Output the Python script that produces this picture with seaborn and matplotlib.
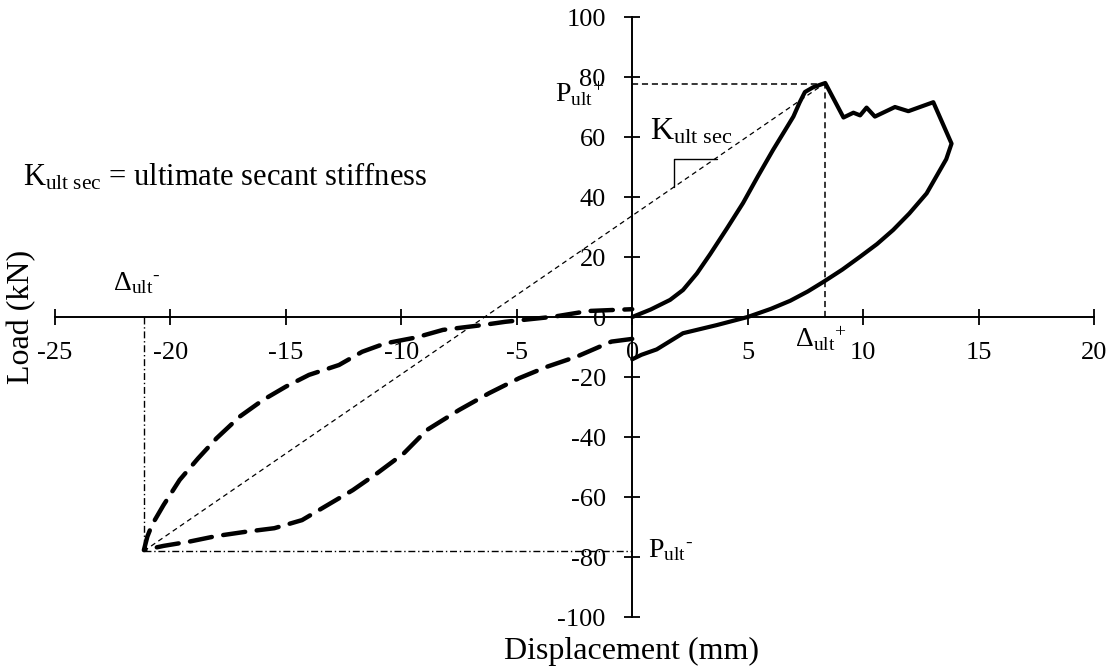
import matplotlib
matplotlib.use("Agg")
import matplotlib.pyplot as plt
import seaborn as sns

# ========== Data ==========
# positive half-cycle (solid)
pos_disp = [0, 0.8, 1.64, 2.2, 2.8, 3.38, 4.1, 4.8, 5.45, 6.1, 6.6, 6.98, 7.25, 7.48, 7.84, 8.36,
            9.15, 9.58, 9.87, 10.15, 10.51, 11.38, 11.96, 13.04, 13.83,
            13.6, 12.75, 12.0, 11.3, 10.6, 9.87, 9.1, 8.3, 7.6, 6.84, 6.0, 5.0, 3.66, 2.2, 1.06, 0.4, 0.0]
pos_load = [0, 2.5, 5.7, 9, 14.5, 21, 29.5, 38, 47, 55.7, 62, 66.8, 71.5, 75, 76.6, 78,
            66.5, 68.1, 67.2, 69.8, 66.8, 70.0, 68.6, 71.6, 57.8,
            52.6, 41.2, 34.5, 29, 24.3, 20.1, 15.8, 11.8, 8.5, 5.4, 2.7, 0, -2.7, -5.4, -10.8, -12.6, -14.1]

# negative half-cycle (dashed)
neg_disp = [0, -0.9, -2.4, -3.7, -4.9, -6.2, -7.5, -8.9, -9.9, -11.05, -12.1, -13.2, -14.3,
            -15.5, -16.75, -18.0, -19.2, -20.3, -21.15,
            -21.0, -20.8, -20.3, -19.6, -18.8, -18.0, -17.0, -16.0, -15.0, -14.0, -12.7,
            -11.7, -10.7, -9.35, -8.2, -6.5, -5.5, -3.4, -1.9, 0]
neg_load = [-7.3, -8.2, -13.2, -16.6, -20.4, -25.4, -31, -37.7, -45.5, -52.1, -57.7, -62.7, -67.7,
            -70.4, -71.6, -73, -74.9, -76.3, -77.7,
            -73.2, -69.3, -62.7, -54.3, -47.1, -40.4, -33.2, -27.7, -23.2, -19.3, -16,
            -11.6, -8.8, -6.8, -4.3, -2.7, -1.6, 0.1, 2, 2.6]

# ultimate points
d_ult_pos, p_ult_pos = 8.33, 77.8
d_ult_neg, p_ult_neg = -21.15, -78.0

# secant slope marker
tri_x = [1.82, 1.82, 3.66]
tri_y = [43.5, 52.8, 52.8]

x_ticks = [-25, -20, -15, -10, -5, 0, 5, 10, 15, 20]
y_ticks = [-100, -80, -60, -40, -20, 0, 20, 40, 60, 80, 100]

# ========== Style ==========
sns.set_theme(style="white")
plt.rcParams['font.family'] = ['Liberation Serif', 'DejaVu Serif']
plt.rcParams['mathtext.fontset'] = 'custom'
plt.rcParams['mathtext.rm'] = 'Liberation Serif'
plt.rcParams['mathtext.it'] = 'Liberation Serif:italic'
plt.rcParams['axes.unicode_minus'] = False
plt.rcParams['text.color'] = 'black'
plt.rcParams['axes.labelcolor'] = 'black'

fig = plt.figure(figsize=(11.14, 6.66), dpi=100)
ax = fig.add_axes([55 / 1114, 49 / 666, 1039 / 1114, 600 / 666])

# ========== Curves ==========
sns.lineplot(x=pos_disp, y=pos_load, sort=False, estimator=None, ax=ax,
             color='black', linewidth=3, zorder=4)
sns.lineplot(x=neg_disp, y=neg_load, sort=False, estimator=None, ax=ax,
             color='black', linewidth=3.2, linestyle=(0, (5, 2.6)),
             dash_capstyle='round', zorder=4)

# secant line through both ultimate points
ax.plot([d_ult_neg, d_ult_pos], [p_ult_neg, p_ult_pos], color='black',
        linewidth=0.9, linestyle=(0, (4, 3)), zorder=3)
# positive ultimate reference lines
ax.plot([0, d_ult_pos], [p_ult_pos, p_ult_pos], color='black', linewidth=1.1,
        linestyle=(0, (4, 2.5)), zorder=3)
ax.plot([d_ult_pos, d_ult_pos], [0, p_ult_pos], color='black', linewidth=1.1,
        linestyle=(0, (4, 2.5)), zorder=3)
# negative ultimate reference lines
ax.plot([d_ult_neg, 0], [p_ult_neg, p_ult_neg], color='black', linewidth=1.0,
        linestyle=(0, (5, 2, 1, 2)), zorder=3)
ax.plot([d_ult_neg, d_ult_neg], [0, p_ult_neg], color='black', linewidth=1.0,
        linestyle=(0, (5, 2, 1, 2)), zorder=3)
# slope triangle
ax.plot(tri_x, tri_y, color='black', linewidth=1.0, zorder=3)

# ========== Axes through the origin ==========
ax.set_xlim(-25, 20)
ax.set_ylim(-100, 100)
ax.spines['left'].set_position(('data', 0))
ax.spines['bottom'].set_position(('data', 0))
ax.spines['top'].set_visible(False)
ax.spines['right'].set_visible(False)
for s in ['left', 'bottom']:
    ax.spines[s].set_color('black')
    ax.spines[s].set_linewidth(1.4)
ax.set_xticks(x_ticks)
ax.set_yticks(y_ticks)
ax.set_xticklabels([str(v) for v in x_ticks])
ax.set_yticklabels([str(v) for v in y_ticks])
ax.tick_params(axis='both', which='major', bottom=True, left=True,
               direction='inout', length=12, width=1.3,
               color='black', labelsize=19, labelcolor='black')
ax.tick_params(axis='x', pad=12)
ax.tick_params(axis='y', pad=13)
ax.grid(False)

ax.set_xlabel("Displacement (mm)", fontsize=23)
ax.set_ylabel("Load (kN)", fontsize=23)
ax.xaxis.set_label_coords((632 - 55) / 1039, (617 - 666) / 600)
ax.yaxis.set_label_coords((22 - 55) / 1039, 0.5)
ax.xaxis.label.set_va('bottom')
ax.yaxis.label.set_va('center')

# ========== Annotations ==========
ax.text(-26.4, 43.7, r'K$_{\mathrm{ult\ sec}}$ = ultimate secant stiffness',
        fontsize=22, ha='left', va='baseline')
ax.text(0.78, 59.3, r'K$_{\mathrm{ult\ sec}}$', fontsize=23, ha='left', va='baseline')
ax.text(-3.35, 71.5, r'P$_{\mathrm{ult}}{}^{\text{+}}$', fontsize=20, ha='left', va='baseline')
ax.text(7.06, -9.9, r'Δ$_{\mathrm{ult}}{}^{\text{+}}$', fontsize=20, ha='left', va='baseline')
ax.text(-22.5, 9.0, r'Δ$_{\mathrm{ult}}{}^{\text{-}}$', fontsize=20, ha='left', va='baseline')
ax.text(0.7, -80.0, r'P$_{\mathrm{ult}}{}^{\text{-}}$', fontsize=20, ha='left', va='baseline')

fig.savefig("out.png", dpi=100, facecolor='white')
